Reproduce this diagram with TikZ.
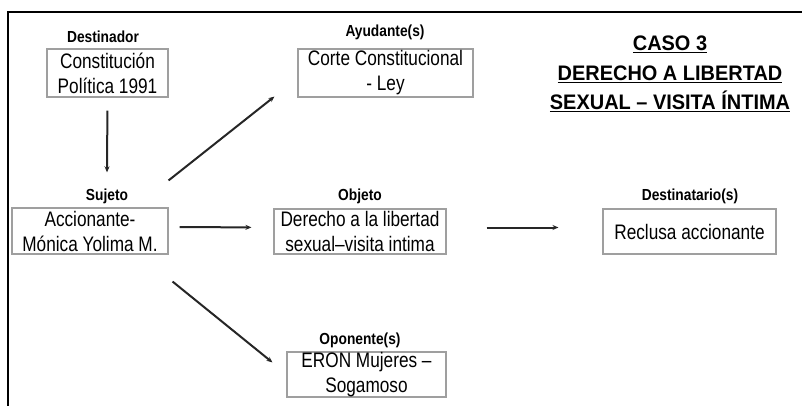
\documentclass[tikz,border=0pt]{standalone}
\usepackage{fontspec}
\setmainfont{Liberation Sans}
\newfontfamily\boxfont[FakeStretch=0.82]{Liberation Sans}
\newfontfamily\lblfont[FakeStretch=0.86]{Liberation Sans}
\newfontfamily\titlefont[FakeStretch=0.95]{Liberation Sans}
\usetikzlibrary{arrows.meta}
\tikzset{
  actant/.style={draw=gray!75, line width=1.1pt, inner sep=0pt, align=center,
    font=\boxfont\fontsize{21}{25}\selectfont},
  rolelbl/.style={inner sep=0pt, font=\lblfont\bfseries\fontsize{16}{18}\selectfont},
  conn/.style={line width=2pt, black!85, -{Stealth[length=6pt,width=5pt]}}
}

\begin{document}
\begin{tikzpicture}[x=1pt,y=-1pt]
            \useasboundingbox (0,0) rectangle (802,406);
            % frame
            \draw[line width=2pt] (8,406) -- (8,12) -- (802,12);
            % actants
            \node[actant, minimum width=121pt, minimum height=48pt] (destinador) at (107.5,73) {Constitución\\Política 1991};
            \node[actant, minimum width=175pt, minimum height=48pt] (ayudante) at (385.5,73) {Corte Constitucional\\- Ley};
            \node[actant, minimum width=156pt, minimum height=46pt] (sujeto) at (90,231) {Accionante-\\Mónica Yolima M.};
            \node[actant, minimum width=172pt, minimum height=45pt] (objeto) at (360,231.5) {Derecho a la libertad\\sexual\textendash visita intima};
            \node[actant, minimum width=173pt, minimum height=45pt] (destinatario) at (689.5,231.5) {Reclusa accionante};
            \node[actant, minimum width=159pt, minimum height=45pt] (oponente) at (366.5,374.5) {ERON Mujeres \textendash\\Sogamoso};
            % role labels
            \node[rolelbl] (destinadorlbl) at (103,37) {Destinador};
            \node[rolelbl] (ayudantelbl) at (385,32) {Ayudante(s)};
            \node[rolelbl] (sujetolbl) at (107,196) {Sujeto};
            \node[rolelbl] (objetolbl) at (360,196) {Objeto};
            \node[rolelbl] (destinatariolbl) at (690,196) {Destinatario(s)};
            \node[rolelbl] (oponentelbl) at (360,340) {Oponente(s)};
            % title
            \node[inner sep=0pt, align=center, font=\titlefont\bfseries\fontsize{21}{29.5}\selectfont] (titulo) at (670,74)
              {\underline{CASO 3}\\\underline{DERECHO A LIBERTAD}\\\underline{SEXUAL \textendash\ VISITA ÍNTIMA}};
            % connectors
            \draw[conn, shorten <=13pt] (destinador.south) -- ([shift={(0,-16)}]sujetolbl.north);
            \draw[conn] ([shift={(0,-27)}]sujeto.north east) -- ([shift={(-23,-1)}]ayudante.south west);
            \draw[conn, shorten <=11pt, shorten >=22pt] ([shift={(0,-4)}]sujeto.east) -- ([shift={(0,-4)}]objeto.west);
            \draw[conn, shorten <=40pt, shorten >=44pt] ([shift={(0,-4)}]objeto.east) -- ([shift={(0,-4)}]destinatario.west);
            \draw[conn] ([shift={(4,27)}]sujeto.south east) -- ([shift={(-14,11)}]oponente.north west);
        \end{tikzpicture}
\end{document}
